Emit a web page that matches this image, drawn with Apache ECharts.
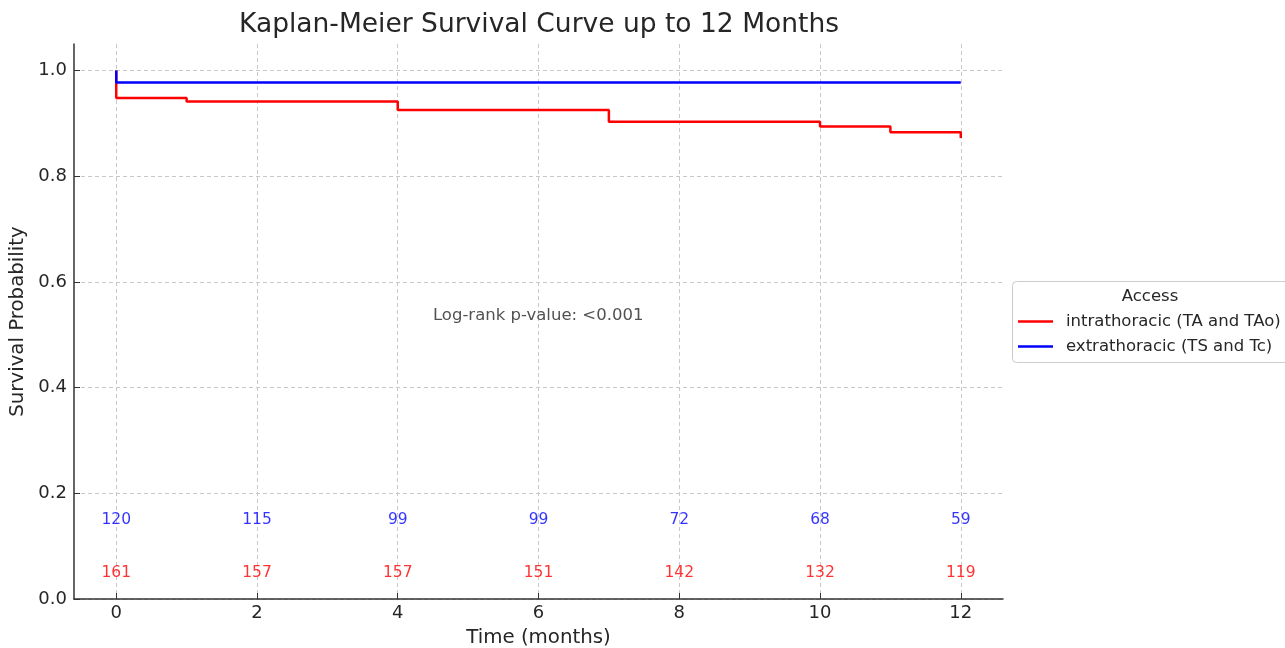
<!DOCTYPE html>
<html>
<head>
<meta charset="utf-8">
<script src="https://cdn.jsdelivr.net/npm/echarts@6/dist/echarts.min.js"></script>
<style>html,body{margin:0;padding:0;background:#fff}#chart{width:1285px;height:648px}</style>
</head>
<body>
<div id="chart"></div>
<script>
// ---- data ----
const intraTimes = [0, 0, 1, 4, 7, 10, 11, 12];
const intraSurv  = [1.0, 0.948, 0.941, 0.925, 0.903, 0.894, 0.883, 0.872];
const extraTimes = [0, 0, 12];
const extraSurv  = [1.0, 0.977, 0.977];
const riskTimes  = [0, 2, 4, 6, 8, 10, 12];
const extraAtRisk = [120, 115, 99, 99, 72, 68, 59];
const intraAtRisk = [161, 157, 157, 151, 142, 132, 119];
const xTicks = [0, 2, 4, 6, 8, 10, 12];
const yTicks = [0, 0.2, 0.4, 0.6, 0.8, 1.0];
const seriesNames = ['intrathoracic (TA and TAo)', 'extrathoracic (TS and Tc)'];
const pValueText = 'Log-rank p-value: <0.001';

const FONT = 'DejaVu Sans';
const TXT = '#262626';
const chart = echarts.init(document.getElementById('chart'), null, {renderer: 'canvas'});

const zip = (a, b) => a.map((v, i) => [v, b[i]]);
const gridLine = {show: true, lineStyle: {color: '#c8c8c8', width: 1, type: [4, 3]}};

chart.setOption({
  animation: false,
  textStyle: {fontFamily: FONT},
  graphic: [
    {type: 'text', x: 539, y: 12, style: {text: 'Kaplan-Meier Survival Curve up to 12 Months', font: '26.5px "DejaVu Sans"', fill: TXT, textAlign: 'center'}},
    {type: 'rect', shape: {x: 1012.5, y: 281.5, width: 290, height: 81, r: 4}, style: {fill: 'rgba(255,255,255,0.8)', stroke: '#cccccc', lineWidth: 1}, z: 0},
    {type: 'text', x: 1150, y: 288, style: {text: 'Access', font: '16.5px "DejaVu Sans"', fill: TXT, textAlign: 'center'}, z: 10}
  ],
  legend: {
    data: seriesNames,
    orient: 'vertical',
    left: 1018, top: 313,
    itemWidth: 35, itemHeight: 2.5, itemGap: 8,
    icon: 'rect',
    padding: 0,
    textStyle: {fontFamily: FONT, fontSize: 16.5, color: TXT, padding: [0, 0, 0, 8]},
    z: 10
  },
  grid: {left: 74, right: 282, top: 44, bottom: 49, containLabel: false, outerBoundsMode: 'none'},
  xAxis: {
    type: 'value', min: -0.6, max: 12.6,
    name: 'Time (months)', nameLocation: 'middle', nameGap: 29,
    nameTextStyle: {fontFamily: FONT, fontSize: 19.8, color: TXT},
    axisLine: {show: true, onZero: false, lineStyle: {color: '#333', width: 1.5}},
    axisTick: {show: true, inside: true, length: 6, customValues: xTicks, lineStyle: {color: '#333'}},
    axisLabel: {customValues: xTicks, fontFamily: FONT, fontSize: 18, color: TXT, margin: 5},
    splitLine: gridLine
  },
  yAxis: {
    type: 'value', min: 0, max: 1.05,
    name: 'Survival Probability', nameLocation: 'middle', nameGap: 40, nameRotate: 90,
    nameTextStyle: {fontFamily: FONT, fontSize: 19.8, color: TXT},
    axisLine: {show: true, onZero: false, lineStyle: {color: '#333', width: 1.5}},
    axisTick: {show: true, inside: true, length: 6, customValues: yTicks, lineStyle: {color: '#333'}},
    axisLabel: {customValues: yTicks, fontFamily: FONT, fontSize: 18, color: TXT, margin: 7, formatter: v => v.toFixed(1)},
    splitLine: gridLine
  },
  series: [
    {name: seriesNames[0], type: 'line', step: 'end', data: zip(intraTimes, intraSurv), showSymbol: false, symbol: 'none',
     lineStyle: {color: '#ff0000', width: 2.5}, itemStyle: {color: '#ff0000'}, z: 3},
    {name: seriesNames[1], type: 'line', step: 'end', data: zip(extraTimes, extraSurv), showSymbol: false, symbol: 'none',
     lineStyle: {color: '#0000ff', width: 2.5}, itemStyle: {color: '#0000ff'}, z: 4},
    {name: 'extraRisk', type: 'scatter', symbolSize: 0, silent: true,
     data: riskTimes.map((t, i) => [t, 0.15, extraAtRisk[i]]),
     label: {show: true, position: 'inside', formatter: p => String(p.value[2]), color: '#0000ff', textBorderWidth: 0, fontFamily: FONT, fontSize: 15.5}},
    {name: 'intraRisk', type: 'scatter', symbolSize: 0, silent: true,
     data: riskTimes.map((t, i) => [t, 0.05, intraAtRisk[i]]),
     label: {show: true, position: 'inside', formatter: p => String(p.value[2]), color: '#ff0000', textBorderWidth: 0, fontFamily: FONT, fontSize: 15.5}},
    {name: 'pvalue', type: 'scatter', symbolSize: 0, silent: true,
     data: [[4.5, 0.535]],
     label: {show: true, position: 'inside', align: 'left', verticalAlign: 'middle', formatter: pValueText, color: TXT, textBorderWidth: 0, fontFamily: FONT, fontSize: 16.5}}
  ]
});
</script>
</body>
</html>
